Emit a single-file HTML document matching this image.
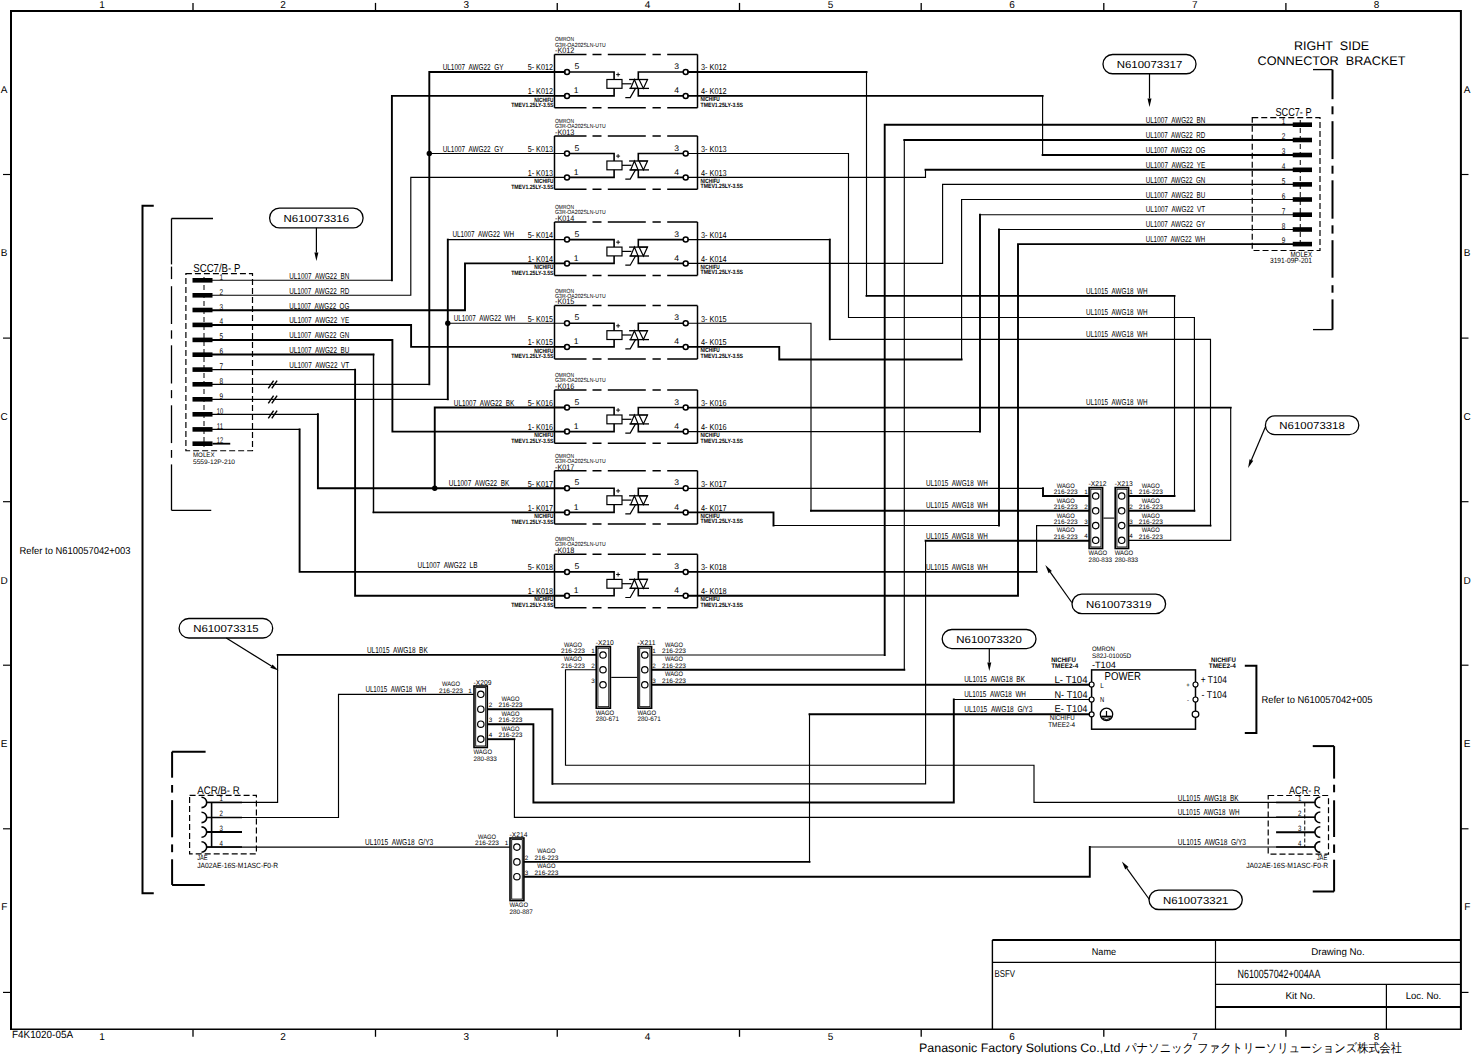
<!DOCTYPE html>
<html><head><meta charset="utf-8"><title>Schematic</title>
<style>
html,body{margin:0;padding:0;background:#fff;}
body{width:1472px;height:1054px;overflow:hidden;}
svg{display:block;font-family:"Liberation Sans", sans-serif;}
text{stroke:none;}
</style></head><body>
<svg width="1472" height="1054" viewBox="0 0 1472 1054" text-rendering="geometricPrecision">
<rect x="0" y="0" width="1472" height="1054" fill="#fff"/>
<g fill="none" stroke="#000">
<path d="M11.0,1029.3 V11.05 H1460.9 V1029.3" stroke-width="2.0"/>
<line x1="10" y1="1029.3" x2="1461.9" y2="1029.3" stroke-width="1.4" />
<line x1="193" y1="2.9" x2="193" y2="11.05" stroke-width="1.3" />
<line x1="193" y1="1029.3" x2="193" y2="1036.8" stroke-width="1.3" />
<line x1="375.5" y1="2.9" x2="375.5" y2="11.05" stroke-width="1.3" />
<line x1="375.5" y1="1029.3" x2="375.5" y2="1036.8" stroke-width="1.3" />
<line x1="557.25" y1="2.9" x2="557.25" y2="11.05" stroke-width="1.3" />
<line x1="557.25" y1="1029.3" x2="557.25" y2="1036.8" stroke-width="1.3" />
<line x1="739.5" y1="2.9" x2="739.5" y2="11.05" stroke-width="1.3" />
<line x1="739.5" y1="1029.3" x2="739.5" y2="1036.8" stroke-width="1.3" />
<line x1="921.2" y1="2.9" x2="921.2" y2="11.05" stroke-width="1.3" />
<line x1="921.2" y1="1029.3" x2="921.2" y2="1036.8" stroke-width="1.3" />
<line x1="1103.8" y1="2.9" x2="1103.8" y2="11.05" stroke-width="1.3" />
<line x1="1103.8" y1="1029.3" x2="1103.8" y2="1036.8" stroke-width="1.3" />
<line x1="1285.9" y1="2.9" x2="1285.9" y2="11.05" stroke-width="1.3" />
<line x1="1285.9" y1="1029.3" x2="1285.9" y2="1036.8" stroke-width="1.3" />
<line x1="3" y1="174.5" x2="11" y2="174.5" stroke-width="1.15" />
<line x1="1460.9" y1="174.5" x2="1468.5" y2="174.5" stroke-width="1.15" />
<line x1="3" y1="338.1" x2="11" y2="338.1" stroke-width="1.15" />
<line x1="1460.9" y1="338.1" x2="1468.5" y2="338.1" stroke-width="1.15" />
<line x1="3" y1="501.7" x2="11" y2="501.7" stroke-width="1.15" />
<line x1="1460.9" y1="501.7" x2="1468.5" y2="501.7" stroke-width="1.15" />
<line x1="3" y1="665.2" x2="11" y2="665.2" stroke-width="1.15" />
<line x1="1460.9" y1="665.2" x2="1468.5" y2="665.2" stroke-width="1.15" />
<line x1="3" y1="828.8" x2="11" y2="828.8" stroke-width="1.15" />
<line x1="1460.9" y1="828.8" x2="1468.5" y2="828.8" stroke-width="1.15" />
<line x1="3" y1="992.4" x2="11" y2="992.4" stroke-width="1.15" />
<line x1="1460.9" y1="992.4" x2="1468.5" y2="992.4" stroke-width="1.15" />
</g>
<g fill="#000" stroke="none">
<text x="102" y="7.65" font-size="10" fill="#000" text-anchor="middle">1</text>
<text x="102" y="1039.75" font-size="10" fill="#000" text-anchor="middle">1</text>
<text x="283" y="7.65" font-size="10" fill="#000" text-anchor="middle">2</text>
<text x="283" y="1039.75" font-size="10" fill="#000" text-anchor="middle">2</text>
<text x="466.25" y="7.65" font-size="10" fill="#000" text-anchor="middle">3</text>
<text x="466.25" y="1039.75" font-size="10" fill="#000" text-anchor="middle">3</text>
<text x="647.5" y="7.65" font-size="10" fill="#000" text-anchor="middle">4</text>
<text x="647.5" y="1039.75" font-size="10" fill="#000" text-anchor="middle">4</text>
<text x="830.5" y="7.65" font-size="10" fill="#000" text-anchor="middle">5</text>
<text x="830.5" y="1039.75" font-size="10" fill="#000" text-anchor="middle">5</text>
<text x="1012" y="7.65" font-size="10" fill="#000" text-anchor="middle">6</text>
<text x="1012" y="1039.75" font-size="10" fill="#000" text-anchor="middle">6</text>
<text x="1194.75" y="7.65" font-size="10" fill="#000" text-anchor="middle">7</text>
<text x="1194.75" y="1039.75" font-size="10" fill="#000" text-anchor="middle">7</text>
<text x="1376.5" y="7.65" font-size="10" fill="#000" text-anchor="middle">8</text>
<text x="1376.5" y="1039.75" font-size="10" fill="#000" text-anchor="middle">8</text>
<text x="4.2" y="93.05" font-size="10" fill="#000" text-anchor="middle">A</text>
<text x="1467.2" y="93.05" font-size="10" fill="#000" text-anchor="middle">A</text>
<text x="4.2" y="256.05" font-size="10" fill="#000" text-anchor="middle">B</text>
<text x="1467.2" y="256.05" font-size="10" fill="#000" text-anchor="middle">B</text>
<text x="4.2" y="419.75" font-size="10" fill="#000" text-anchor="middle">C</text>
<text x="1467.2" y="419.75" font-size="10" fill="#000" text-anchor="middle">C</text>
<text x="4.2" y="583.75" font-size="10" fill="#000" text-anchor="middle">D</text>
<text x="1467.2" y="583.75" font-size="10" fill="#000" text-anchor="middle">D</text>
<text x="4.2" y="747.05" font-size="10" fill="#000" text-anchor="middle">E</text>
<text x="1467.2" y="747.05" font-size="10" fill="#000" text-anchor="middle">E</text>
<text x="4.2" y="910.25" font-size="10" fill="#000" text-anchor="middle">F</text>
<text x="1467.2" y="910.25" font-size="10" fill="#000" text-anchor="middle">F</text>
<text x="12" y="1038.29" font-size="10.4" fill="#000" textLength="61" lengthAdjust="spacingAndGlyphs">F4K1020-05A</text>
</g>
<g fill="none" stroke="#000">
<line x1="554.5" y1="54.4" x2="554.5" y2="107.8" stroke-width="1.5" />
<line x1="697.5" y1="54.4" x2="697.5" y2="107.8" stroke-width="1.5" />
<line x1="554.5" y1="54.4" x2="697.5" y2="54.4" stroke-width="1.5" stroke-dasharray="32 6 9 6.3 38 6.7 8.3 6.4 40"/>
<line x1="554.5" y1="107.8" x2="697.5" y2="107.8" stroke-width="1.5" stroke-dasharray="32 6 9 6.3 38 6.7 8.3 6.4 40"/>
<circle cx="567" cy="72" r="2.5" stroke-width="1.5" fill="none"/>
<circle cx="567" cy="95.9" r="2.5" stroke-width="1.5" fill="none"/>
<circle cx="685.7" cy="72" r="2.5" stroke-width="1.5" fill="none"/>
<circle cx="685.7" cy="95.9" r="2.5" stroke-width="1.5" fill="none"/>
<polyline points="569.4,72 614.1,72 614.1,79.5" stroke-width="1.6" />
<polyline points="569.4,95.9 614.1,95.9 614.1,88.3" stroke-width="1.6" />
<rect x="606.9" y="79.5" width="15.1" height="8.8" stroke-width="1.2" />
<line x1="622" y1="83.8" x2="631.5" y2="83.8" stroke-width="1.2" />
<line x1="629.1" y1="79.5" x2="648" y2="79.5" stroke-width="1.3" />
<line x1="629.4" y1="88.4" x2="649" y2="88.4" stroke-width="1.3" />
<polygon points="630.6,88.4 634.4,79.5 638.1,88.4" stroke-width="1.2"/>
<polygon points="639.1,79.5 647.5,79.5 643.4,88.4" stroke-width="1.2"/>
<polyline points="683.3,72 638.3,72 638.3,79.5" stroke-width="1.6" />
<polyline points="683.3,95.9 638.3,95.9 638.3,88.4" stroke-width="1.6" />
<polyline points="625.3,97.6 630.2,97.6 635.5,88.4" stroke-width="1.2" />
</g>
<g fill="#000" stroke="none">
<path d="M616.1,74.6H620.1M618.1,72.6V76.6" stroke="#000" stroke-width="0.9" fill="none"/>
<text x="574.5" y="69.13" font-size="8.2" fill="#000" textLength="4.8" lengthAdjust="spacingAndGlyphs">5</text>
<text x="573.8" y="93.03" font-size="8.2" fill="#000" textLength="4.8" lengthAdjust="spacingAndGlyphs">1</text>
<text x="674.3" y="69.13" font-size="8.2" fill="#000" textLength="4.8" lengthAdjust="spacingAndGlyphs">3</text>
<text x="674.3" y="93.03" font-size="8.2" fill="#000" textLength="4.8" lengthAdjust="spacingAndGlyphs">4</text>
<text x="553" y="70.37" font-size="8.6" fill="#000" text-anchor="end" textLength="25.3" lengthAdjust="spacingAndGlyphs">5- K012</text>
<text x="553" y="94.27" font-size="8.6" fill="#000" text-anchor="end" textLength="25.3" lengthAdjust="spacingAndGlyphs">1- K012</text>
<text x="553.5" y="101.54" font-size="6.2" fill="#000" text-anchor="end" textLength="19.3" lengthAdjust="spacingAndGlyphs" font-weight="bold">NICHIFU</text>
<text x="553.5" y="107.04" font-size="6.2" fill="#000" text-anchor="end" textLength="42.3" lengthAdjust="spacingAndGlyphs" font-weight="bold">TMEV1.25LY-3.5S</text>
<text x="701" y="70.37" font-size="8.6" fill="#000" textLength="25.7" lengthAdjust="spacingAndGlyphs">3- K012</text>
<text x="701" y="94.27" font-size="8.6" fill="#000" textLength="25.7" lengthAdjust="spacingAndGlyphs">4- K012</text>
<text x="700.5" y="101.24" font-size="6.2" fill="#000" textLength="19.3" lengthAdjust="spacingAndGlyphs" font-weight="bold">NICHIFU</text>
<text x="700.5" y="106.94" font-size="6.2" fill="#000" textLength="42.5" lengthAdjust="spacingAndGlyphs" font-weight="bold">TMEV1.25LY-3.5S</text>
<text x="555" y="41.47" font-size="6" fill="#000" textLength="19" lengthAdjust="spacingAndGlyphs">OMRON</text>
<text x="555" y="46.57" font-size="6" fill="#000" textLength="50.8" lengthAdjust="spacingAndGlyphs">G3R-OA202SLN-UTU</text>
<text x="555" y="53.26" font-size="8" fill="#000" textLength="19.4" lengthAdjust="spacingAndGlyphs">-K012</text>
</g>
<g fill="none" stroke="#000">
<line x1="554.5" y1="135.9" x2="554.5" y2="189.3" stroke-width="1.5" />
<line x1="697.5" y1="135.9" x2="697.5" y2="189.3" stroke-width="1.5" />
<line x1="554.5" y1="135.9" x2="697.5" y2="135.9" stroke-width="1.5" stroke-dasharray="32 6 9 6.3 38 6.7 8.3 6.4 40"/>
<line x1="554.5" y1="189.3" x2="697.5" y2="189.3" stroke-width="1.5" stroke-dasharray="32 6 9 6.3 38 6.7 8.3 6.4 40"/>
<circle cx="567" cy="153.5" r="2.5" stroke-width="1.5" fill="none"/>
<circle cx="567" cy="177.4" r="2.5" stroke-width="1.5" fill="none"/>
<circle cx="685.7" cy="153.5" r="2.5" stroke-width="1.5" fill="none"/>
<circle cx="685.7" cy="177.4" r="2.5" stroke-width="1.5" fill="none"/>
<polyline points="569.4,153.5 614.1,153.5 614.1,161" stroke-width="1.6" />
<polyline points="569.4,177.4 614.1,177.4 614.1,169.8" stroke-width="1.6" />
<rect x="606.9" y="161" width="15.1" height="8.8" stroke-width="1.2" />
<line x1="622" y1="165.3" x2="631.5" y2="165.3" stroke-width="1.2" />
<line x1="629.1" y1="161" x2="648" y2="161" stroke-width="1.3" />
<line x1="629.4" y1="169.9" x2="649" y2="169.9" stroke-width="1.3" />
<polygon points="630.6,169.9 634.4,161 638.1,169.9" stroke-width="1.2"/>
<polygon points="639.1,161 647.5,161 643.4,169.9" stroke-width="1.2"/>
<polyline points="683.3,153.5 638.3,153.5 638.3,161" stroke-width="1.6" />
<polyline points="683.3,177.4 638.3,177.4 638.3,169.9" stroke-width="1.6" />
<polyline points="625.3,179.1 630.2,179.1 635.5,169.9" stroke-width="1.2" />
</g>
<g fill="#000" stroke="none">
<path d="M616.1,156.1H620.1M618.1,154.1V158.1" stroke="#000" stroke-width="0.9" fill="none"/>
<text x="574.5" y="150.63" font-size="8.2" fill="#000" textLength="4.8" lengthAdjust="spacingAndGlyphs">5</text>
<text x="573.8" y="174.53" font-size="8.2" fill="#000" textLength="4.8" lengthAdjust="spacingAndGlyphs">1</text>
<text x="674.3" y="150.63" font-size="8.2" fill="#000" textLength="4.8" lengthAdjust="spacingAndGlyphs">3</text>
<text x="674.3" y="174.53" font-size="8.2" fill="#000" textLength="4.8" lengthAdjust="spacingAndGlyphs">4</text>
<text x="553" y="151.87" font-size="8.6" fill="#000" text-anchor="end" textLength="25.3" lengthAdjust="spacingAndGlyphs">5- K013</text>
<text x="553" y="175.77" font-size="8.6" fill="#000" text-anchor="end" textLength="25.3" lengthAdjust="spacingAndGlyphs">1- K013</text>
<text x="553.5" y="183.04" font-size="6.2" fill="#000" text-anchor="end" textLength="19.3" lengthAdjust="spacingAndGlyphs" font-weight="bold">NICHIFU</text>
<text x="553.5" y="188.54" font-size="6.2" fill="#000" text-anchor="end" textLength="42.3" lengthAdjust="spacingAndGlyphs" font-weight="bold">TMEV1.25LY-3.5S</text>
<text x="701" y="151.87" font-size="8.6" fill="#000" textLength="25.7" lengthAdjust="spacingAndGlyphs">3- K013</text>
<text x="701" y="175.77" font-size="8.6" fill="#000" textLength="25.7" lengthAdjust="spacingAndGlyphs">4- K013</text>
<text x="700.5" y="182.74" font-size="6.2" fill="#000" textLength="19.3" lengthAdjust="spacingAndGlyphs" font-weight="bold">NICHIFU</text>
<text x="700.5" y="188.44" font-size="6.2" fill="#000" textLength="42.5" lengthAdjust="spacingAndGlyphs" font-weight="bold">TMEV1.25LY-3.5S</text>
<text x="555" y="122.97" font-size="6" fill="#000" textLength="19" lengthAdjust="spacingAndGlyphs">OMRON</text>
<text x="555" y="128.07" font-size="6" fill="#000" textLength="50.8" lengthAdjust="spacingAndGlyphs">G3R-OA202SLN-UTU</text>
<text x="555" y="134.76" font-size="8" fill="#000" textLength="19.4" lengthAdjust="spacingAndGlyphs">-K013</text>
</g>
<g fill="none" stroke="#000">
<line x1="554.5" y1="222" x2="554.5" y2="275.4" stroke-width="1.5" />
<line x1="697.5" y1="222" x2="697.5" y2="275.4" stroke-width="1.5" />
<line x1="554.5" y1="222" x2="697.5" y2="222" stroke-width="1.5" stroke-dasharray="32 6 9 6.3 38 6.7 8.3 6.4 40"/>
<line x1="554.5" y1="275.4" x2="697.5" y2="275.4" stroke-width="1.5" stroke-dasharray="32 6 9 6.3 38 6.7 8.3 6.4 40"/>
<circle cx="567" cy="239.6" r="2.5" stroke-width="1.5" fill="none"/>
<circle cx="567" cy="263.4" r="2.5" stroke-width="1.5" fill="none"/>
<circle cx="685.7" cy="239.6" r="2.5" stroke-width="1.5" fill="none"/>
<circle cx="685.7" cy="263.4" r="2.5" stroke-width="1.5" fill="none"/>
<polyline points="569.4,239.6 614.1,239.6 614.1,247.1" stroke-width="1.6" />
<polyline points="569.4,263.4 614.1,263.4 614.1,255.9" stroke-width="1.6" />
<rect x="606.9" y="247.1" width="15.1" height="8.8" stroke-width="1.2" />
<line x1="622" y1="251.4" x2="631.5" y2="251.4" stroke-width="1.2" />
<line x1="629.1" y1="247.1" x2="648" y2="247.1" stroke-width="1.3" />
<line x1="629.4" y1="256" x2="649" y2="256" stroke-width="1.3" />
<polygon points="630.6,256 634.4,247.1 638.1,256" stroke-width="1.2"/>
<polygon points="639.1,247.1 647.5,247.1 643.4,256" stroke-width="1.2"/>
<polyline points="683.3,239.6 638.3,239.6 638.3,247.1" stroke-width="1.6" />
<polyline points="683.3,263.4 638.3,263.4 638.3,256" stroke-width="1.6" />
<polyline points="625.3,265.2 630.2,265.2 635.5,256" stroke-width="1.2" />
</g>
<g fill="#000" stroke="none">
<path d="M616.1,242.2H620.1M618.1,240.2V244.2" stroke="#000" stroke-width="0.9" fill="none"/>
<text x="574.5" y="236.73" font-size="8.2" fill="#000" textLength="4.8" lengthAdjust="spacingAndGlyphs">5</text>
<text x="573.8" y="260.53" font-size="8.2" fill="#000" textLength="4.8" lengthAdjust="spacingAndGlyphs">1</text>
<text x="674.3" y="236.73" font-size="8.2" fill="#000" textLength="4.8" lengthAdjust="spacingAndGlyphs">3</text>
<text x="674.3" y="260.53" font-size="8.2" fill="#000" textLength="4.8" lengthAdjust="spacingAndGlyphs">4</text>
<text x="553" y="237.97" font-size="8.6" fill="#000" text-anchor="end" textLength="25.3" lengthAdjust="spacingAndGlyphs">5- K014</text>
<text x="553" y="261.77" font-size="8.6" fill="#000" text-anchor="end" textLength="25.3" lengthAdjust="spacingAndGlyphs">1- K014</text>
<text x="553.5" y="269.04" font-size="6.2" fill="#000" text-anchor="end" textLength="19.3" lengthAdjust="spacingAndGlyphs" font-weight="bold">NICHIFU</text>
<text x="553.5" y="274.54" font-size="6.2" fill="#000" text-anchor="end" textLength="42.3" lengthAdjust="spacingAndGlyphs" font-weight="bold">TMEV1.25LY-3.5S</text>
<text x="701" y="237.97" font-size="8.6" fill="#000" textLength="25.7" lengthAdjust="spacingAndGlyphs">3- K014</text>
<text x="701" y="261.77" font-size="8.6" fill="#000" textLength="25.7" lengthAdjust="spacingAndGlyphs">4- K014</text>
<text x="700.5" y="268.74" font-size="6.2" fill="#000" textLength="19.3" lengthAdjust="spacingAndGlyphs" font-weight="bold">NICHIFU</text>
<text x="700.5" y="274.44" font-size="6.2" fill="#000" textLength="42.5" lengthAdjust="spacingAndGlyphs" font-weight="bold">TMEV1.25LY-3.5S</text>
<text x="555" y="209.07" font-size="6" fill="#000" textLength="19" lengthAdjust="spacingAndGlyphs">OMRON</text>
<text x="555" y="214.17" font-size="6" fill="#000" textLength="50.8" lengthAdjust="spacingAndGlyphs">G3R-OA202SLN-UTU</text>
<text x="555" y="220.86" font-size="8" fill="#000" textLength="19.4" lengthAdjust="spacingAndGlyphs">-K014</text>
</g>
<g fill="none" stroke="#000">
<line x1="554.5" y1="305.6" x2="554.5" y2="359" stroke-width="1.5" />
<line x1="697.5" y1="305.6" x2="697.5" y2="359" stroke-width="1.5" />
<line x1="554.5" y1="305.6" x2="697.5" y2="305.6" stroke-width="1.5" stroke-dasharray="32 6 9 6.3 38 6.7 8.3 6.4 40"/>
<line x1="554.5" y1="359" x2="697.5" y2="359" stroke-width="1.5" stroke-dasharray="32 6 9 6.3 38 6.7 8.3 6.4 40"/>
<circle cx="567" cy="323.2" r="2.5" stroke-width="1.5" fill="none"/>
<circle cx="567" cy="346.9" r="2.5" stroke-width="1.5" fill="none"/>
<circle cx="685.7" cy="323.2" r="2.5" stroke-width="1.5" fill="none"/>
<circle cx="685.7" cy="346.9" r="2.5" stroke-width="1.5" fill="none"/>
<polyline points="569.4,323.2 614.1,323.2 614.1,330.7" stroke-width="1.6" />
<polyline points="569.4,346.9 614.1,346.9 614.1,339.5" stroke-width="1.6" />
<rect x="606.9" y="330.7" width="15.1" height="8.8" stroke-width="1.2" />
<line x1="622" y1="335" x2="631.5" y2="335" stroke-width="1.2" />
<line x1="629.1" y1="330.7" x2="648" y2="330.7" stroke-width="1.3" />
<line x1="629.4" y1="339.6" x2="649" y2="339.6" stroke-width="1.3" />
<polygon points="630.6,339.6 634.4,330.7 638.1,339.6" stroke-width="1.2"/>
<polygon points="639.1,330.7 647.5,330.7 643.4,339.6" stroke-width="1.2"/>
<polyline points="683.3,323.2 638.3,323.2 638.3,330.7" stroke-width="1.6" />
<polyline points="683.3,346.9 638.3,346.9 638.3,339.6" stroke-width="1.6" />
<polyline points="625.3,348.8 630.2,348.8 635.5,339.6" stroke-width="1.2" />
</g>
<g fill="#000" stroke="none">
<path d="M616.1,325.8H620.1M618.1,323.8V327.8" stroke="#000" stroke-width="0.9" fill="none"/>
<text x="574.5" y="320.33" font-size="8.2" fill="#000" textLength="4.8" lengthAdjust="spacingAndGlyphs">5</text>
<text x="573.8" y="344.03" font-size="8.2" fill="#000" textLength="4.8" lengthAdjust="spacingAndGlyphs">1</text>
<text x="674.3" y="320.33" font-size="8.2" fill="#000" textLength="4.8" lengthAdjust="spacingAndGlyphs">3</text>
<text x="674.3" y="344.03" font-size="8.2" fill="#000" textLength="4.8" lengthAdjust="spacingAndGlyphs">4</text>
<text x="553" y="321.57" font-size="8.6" fill="#000" text-anchor="end" textLength="25.3" lengthAdjust="spacingAndGlyphs">5- K015</text>
<text x="553" y="345.27" font-size="8.6" fill="#000" text-anchor="end" textLength="25.3" lengthAdjust="spacingAndGlyphs">1- K015</text>
<text x="553.5" y="352.54" font-size="6.2" fill="#000" text-anchor="end" textLength="19.3" lengthAdjust="spacingAndGlyphs" font-weight="bold">NICHIFU</text>
<text x="553.5" y="358.04" font-size="6.2" fill="#000" text-anchor="end" textLength="42.3" lengthAdjust="spacingAndGlyphs" font-weight="bold">TMEV1.25LY-3.5S</text>
<text x="701" y="321.57" font-size="8.6" fill="#000" textLength="25.7" lengthAdjust="spacingAndGlyphs">3- K015</text>
<text x="701" y="345.27" font-size="8.6" fill="#000" textLength="25.7" lengthAdjust="spacingAndGlyphs">4- K015</text>
<text x="700.5" y="352.24" font-size="6.2" fill="#000" textLength="19.3" lengthAdjust="spacingAndGlyphs" font-weight="bold">NICHIFU</text>
<text x="700.5" y="357.94" font-size="6.2" fill="#000" textLength="42.5" lengthAdjust="spacingAndGlyphs" font-weight="bold">TMEV1.25LY-3.5S</text>
<text x="555" y="292.67" font-size="6" fill="#000" textLength="19" lengthAdjust="spacingAndGlyphs">OMRON</text>
<text x="555" y="297.77" font-size="6" fill="#000" textLength="50.8" lengthAdjust="spacingAndGlyphs">G3R-OA202SLN-UTU</text>
<text x="555" y="304.46" font-size="8" fill="#000" textLength="19.4" lengthAdjust="spacingAndGlyphs">-K015</text>
</g>
<g fill="none" stroke="#000">
<line x1="554.5" y1="389.9" x2="554.5" y2="443.3" stroke-width="1.5" />
<line x1="697.5" y1="389.9" x2="697.5" y2="443.3" stroke-width="1.5" />
<line x1="554.5" y1="389.9" x2="697.5" y2="389.9" stroke-width="1.5" stroke-dasharray="32 6 9 6.3 38 6.7 8.3 6.4 40"/>
<line x1="554.5" y1="443.3" x2="697.5" y2="443.3" stroke-width="1.5" stroke-dasharray="32 6 9 6.3 38 6.7 8.3 6.4 40"/>
<circle cx="567" cy="407.5" r="2.5" stroke-width="1.5" fill="none"/>
<circle cx="567" cy="431.6" r="2.5" stroke-width="1.5" fill="none"/>
<circle cx="685.7" cy="407.5" r="2.5" stroke-width="1.5" fill="none"/>
<circle cx="685.7" cy="431.6" r="2.5" stroke-width="1.5" fill="none"/>
<polyline points="569.4,407.5 614.1,407.5 614.1,415" stroke-width="1.6" />
<polyline points="569.4,431.6 614.1,431.6 614.1,423.8" stroke-width="1.6" />
<rect x="606.9" y="415" width="15.1" height="8.8" stroke-width="1.2" />
<line x1="622" y1="419.3" x2="631.5" y2="419.3" stroke-width="1.2" />
<line x1="629.1" y1="415" x2="648" y2="415" stroke-width="1.3" />
<line x1="629.4" y1="423.9" x2="649" y2="423.9" stroke-width="1.3" />
<polygon points="630.6,423.9 634.4,415 638.1,423.9" stroke-width="1.2"/>
<polygon points="639.1,415 647.5,415 643.4,423.9" stroke-width="1.2"/>
<polyline points="683.3,407.5 638.3,407.5 638.3,415" stroke-width="1.6" />
<polyline points="683.3,431.6 638.3,431.6 638.3,423.9" stroke-width="1.6" />
<polyline points="625.3,433.1 630.2,433.1 635.5,423.9" stroke-width="1.2" />
</g>
<g fill="#000" stroke="none">
<path d="M616.1,410.1H620.1M618.1,408.1V412.1" stroke="#000" stroke-width="0.9" fill="none"/>
<text x="574.5" y="404.63" font-size="8.2" fill="#000" textLength="4.8" lengthAdjust="spacingAndGlyphs">5</text>
<text x="573.8" y="428.73" font-size="8.2" fill="#000" textLength="4.8" lengthAdjust="spacingAndGlyphs">1</text>
<text x="674.3" y="404.63" font-size="8.2" fill="#000" textLength="4.8" lengthAdjust="spacingAndGlyphs">3</text>
<text x="674.3" y="428.73" font-size="8.2" fill="#000" textLength="4.8" lengthAdjust="spacingAndGlyphs">4</text>
<text x="553" y="405.87" font-size="8.6" fill="#000" text-anchor="end" textLength="25.3" lengthAdjust="spacingAndGlyphs">5- K016</text>
<text x="553" y="429.97" font-size="8.6" fill="#000" text-anchor="end" textLength="25.3" lengthAdjust="spacingAndGlyphs">1- K016</text>
<text x="553.5" y="437.24" font-size="6.2" fill="#000" text-anchor="end" textLength="19.3" lengthAdjust="spacingAndGlyphs" font-weight="bold">NICHIFU</text>
<text x="553.5" y="442.74" font-size="6.2" fill="#000" text-anchor="end" textLength="42.3" lengthAdjust="spacingAndGlyphs" font-weight="bold">TMEV1.25LY-3.5S</text>
<text x="701" y="405.87" font-size="8.6" fill="#000" textLength="25.7" lengthAdjust="spacingAndGlyphs">3- K016</text>
<text x="701" y="429.97" font-size="8.6" fill="#000" textLength="25.7" lengthAdjust="spacingAndGlyphs">4- K016</text>
<text x="700.5" y="436.94" font-size="6.2" fill="#000" textLength="19.3" lengthAdjust="spacingAndGlyphs" font-weight="bold">NICHIFU</text>
<text x="700.5" y="442.64" font-size="6.2" fill="#000" textLength="42.5" lengthAdjust="spacingAndGlyphs" font-weight="bold">TMEV1.25LY-3.5S</text>
<text x="555" y="376.97" font-size="6" fill="#000" textLength="19" lengthAdjust="spacingAndGlyphs">OMRON</text>
<text x="555" y="382.07" font-size="6" fill="#000" textLength="50.8" lengthAdjust="spacingAndGlyphs">G3R-OA202SLN-UTU</text>
<text x="555" y="388.76" font-size="8" fill="#000" textLength="19.4" lengthAdjust="spacingAndGlyphs">-K016</text>
</g>
<g fill="none" stroke="#000">
<line x1="554.5" y1="470.7" x2="554.5" y2="524.1" stroke-width="1.5" />
<line x1="697.5" y1="470.7" x2="697.5" y2="524.1" stroke-width="1.5" />
<line x1="554.5" y1="470.7" x2="697.5" y2="470.7" stroke-width="1.5" stroke-dasharray="32 6 9 6.3 38 6.7 8.3 6.4 40"/>
<line x1="554.5" y1="524.1" x2="697.5" y2="524.1" stroke-width="1.5" stroke-dasharray="32 6 9 6.3 38 6.7 8.3 6.4 40"/>
<circle cx="567" cy="488.3" r="2.5" stroke-width="1.5" fill="none"/>
<circle cx="567" cy="512.4" r="2.5" stroke-width="1.5" fill="none"/>
<circle cx="685.7" cy="488.3" r="2.5" stroke-width="1.5" fill="none"/>
<circle cx="685.7" cy="512.4" r="2.5" stroke-width="1.5" fill="none"/>
<polyline points="569.4,488.3 614.1,488.3 614.1,495.8" stroke-width="1.6" />
<polyline points="569.4,512.4 614.1,512.4 614.1,504.6" stroke-width="1.6" />
<rect x="606.9" y="495.8" width="15.1" height="8.8" stroke-width="1.2" />
<line x1="622" y1="500.1" x2="631.5" y2="500.1" stroke-width="1.2" />
<line x1="629.1" y1="495.8" x2="648" y2="495.8" stroke-width="1.3" />
<line x1="629.4" y1="504.7" x2="649" y2="504.7" stroke-width="1.3" />
<polygon points="630.6,504.7 634.4,495.8 638.1,504.7" stroke-width="1.2"/>
<polygon points="639.1,495.8 647.5,495.8 643.4,504.7" stroke-width="1.2"/>
<polyline points="683.3,488.3 638.3,488.3 638.3,495.8" stroke-width="1.6" />
<polyline points="683.3,512.4 638.3,512.4 638.3,504.7" stroke-width="1.6" />
<polyline points="625.3,513.9 630.2,513.9 635.5,504.7" stroke-width="1.2" />
</g>
<g fill="#000" stroke="none">
<path d="M616.1,490.9H620.1M618.1,488.9V492.9" stroke="#000" stroke-width="0.9" fill="none"/>
<text x="574.5" y="485.43" font-size="8.2" fill="#000" textLength="4.8" lengthAdjust="spacingAndGlyphs">5</text>
<text x="573.8" y="509.53" font-size="8.2" fill="#000" textLength="4.8" lengthAdjust="spacingAndGlyphs">1</text>
<text x="674.3" y="485.43" font-size="8.2" fill="#000" textLength="4.8" lengthAdjust="spacingAndGlyphs">3</text>
<text x="674.3" y="509.53" font-size="8.2" fill="#000" textLength="4.8" lengthAdjust="spacingAndGlyphs">4</text>
<text x="553" y="486.67" font-size="8.6" fill="#000" text-anchor="end" textLength="25.3" lengthAdjust="spacingAndGlyphs">5- K017</text>
<text x="553" y="510.77" font-size="8.6" fill="#000" text-anchor="end" textLength="25.3" lengthAdjust="spacingAndGlyphs">1- K017</text>
<text x="553.5" y="518.04" font-size="6.2" fill="#000" text-anchor="end" textLength="19.3" lengthAdjust="spacingAndGlyphs" font-weight="bold">NICHIFU</text>
<text x="553.5" y="523.54" font-size="6.2" fill="#000" text-anchor="end" textLength="42.3" lengthAdjust="spacingAndGlyphs" font-weight="bold">TMEV1.25LY-3.5S</text>
<text x="701" y="486.67" font-size="8.6" fill="#000" textLength="25.7" lengthAdjust="spacingAndGlyphs">3- K017</text>
<text x="701" y="510.77" font-size="8.6" fill="#000" textLength="25.7" lengthAdjust="spacingAndGlyphs">4- K017</text>
<text x="700.5" y="517.74" font-size="6.2" fill="#000" textLength="19.3" lengthAdjust="spacingAndGlyphs" font-weight="bold">NICHIFU</text>
<text x="700.5" y="523.44" font-size="6.2" fill="#000" textLength="42.5" lengthAdjust="spacingAndGlyphs" font-weight="bold">TMEV1.25LY-3.5S</text>
<text x="555" y="457.77" font-size="6" fill="#000" textLength="19" lengthAdjust="spacingAndGlyphs">OMRON</text>
<text x="555" y="462.87" font-size="6" fill="#000" textLength="50.8" lengthAdjust="spacingAndGlyphs">G3R-OA202SLN-UTU</text>
<text x="555" y="469.56" font-size="8" fill="#000" textLength="19.4" lengthAdjust="spacingAndGlyphs">-K017</text>
</g>
<g fill="none" stroke="#000">
<line x1="554.5" y1="554.3" x2="554.5" y2="607.7" stroke-width="1.5" />
<line x1="697.5" y1="554.3" x2="697.5" y2="607.7" stroke-width="1.5" />
<line x1="554.5" y1="554.3" x2="697.5" y2="554.3" stroke-width="1.5" stroke-dasharray="32 6 9 6.3 38 6.7 8.3 6.4 40"/>
<line x1="554.5" y1="607.7" x2="697.5" y2="607.7" stroke-width="1.5" stroke-dasharray="32 6 9 6.3 38 6.7 8.3 6.4 40"/>
<circle cx="567" cy="571.9" r="2.5" stroke-width="1.5" fill="none"/>
<circle cx="567" cy="595.7" r="2.5" stroke-width="1.5" fill="none"/>
<circle cx="685.7" cy="571.9" r="2.5" stroke-width="1.5" fill="none"/>
<circle cx="685.7" cy="595.7" r="2.5" stroke-width="1.5" fill="none"/>
<polyline points="569.4,571.9 614.1,571.9 614.1,579.4" stroke-width="1.6" />
<polyline points="569.4,595.7 614.1,595.7 614.1,588.2" stroke-width="1.6" />
<rect x="606.9" y="579.4" width="15.1" height="8.8" stroke-width="1.2" />
<line x1="622" y1="583.7" x2="631.5" y2="583.7" stroke-width="1.2" />
<line x1="629.1" y1="579.4" x2="648" y2="579.4" stroke-width="1.3" />
<line x1="629.4" y1="588.3" x2="649" y2="588.3" stroke-width="1.3" />
<polygon points="630.6,588.3 634.4,579.4 638.1,588.3" stroke-width="1.2"/>
<polygon points="639.1,579.4 647.5,579.4 643.4,588.3" stroke-width="1.2"/>
<polyline points="683.3,571.9 638.3,571.9 638.3,579.4" stroke-width="1.6" />
<polyline points="683.3,595.7 638.3,595.7 638.3,588.3" stroke-width="1.6" />
<polyline points="625.3,597.5 630.2,597.5 635.5,588.3" stroke-width="1.2" />
</g>
<g fill="#000" stroke="none">
<path d="M616.1,574.5H620.1M618.1,572.5V576.5" stroke="#000" stroke-width="0.9" fill="none"/>
<text x="574.5" y="569.03" font-size="8.2" fill="#000" textLength="4.8" lengthAdjust="spacingAndGlyphs">5</text>
<text x="573.8" y="592.83" font-size="8.2" fill="#000" textLength="4.8" lengthAdjust="spacingAndGlyphs">1</text>
<text x="674.3" y="569.03" font-size="8.2" fill="#000" textLength="4.8" lengthAdjust="spacingAndGlyphs">3</text>
<text x="674.3" y="592.83" font-size="8.2" fill="#000" textLength="4.8" lengthAdjust="spacingAndGlyphs">4</text>
<text x="553" y="570.27" font-size="8.6" fill="#000" text-anchor="end" textLength="25.3" lengthAdjust="spacingAndGlyphs">5- K018</text>
<text x="553" y="594.07" font-size="8.6" fill="#000" text-anchor="end" textLength="25.3" lengthAdjust="spacingAndGlyphs">1- K018</text>
<text x="553.5" y="601.34" font-size="6.2" fill="#000" text-anchor="end" textLength="19.3" lengthAdjust="spacingAndGlyphs" font-weight="bold">NICHIFU</text>
<text x="553.5" y="606.84" font-size="6.2" fill="#000" text-anchor="end" textLength="42.3" lengthAdjust="spacingAndGlyphs" font-weight="bold">TMEV1.25LY-3.5S</text>
<text x="701" y="570.27" font-size="8.6" fill="#000" textLength="25.7" lengthAdjust="spacingAndGlyphs">3- K018</text>
<text x="701" y="594.07" font-size="8.6" fill="#000" textLength="25.7" lengthAdjust="spacingAndGlyphs">4- K018</text>
<text x="700.5" y="601.04" font-size="6.2" fill="#000" textLength="19.3" lengthAdjust="spacingAndGlyphs" font-weight="bold">NICHIFU</text>
<text x="700.5" y="606.74" font-size="6.2" fill="#000" textLength="42.5" lengthAdjust="spacingAndGlyphs" font-weight="bold">TMEV1.25LY-3.5S</text>
<text x="555" y="541.37" font-size="6" fill="#000" textLength="19" lengthAdjust="spacingAndGlyphs">OMRON</text>
<text x="555" y="546.47" font-size="6" fill="#000" textLength="50.8" lengthAdjust="spacingAndGlyphs">G3R-OA202SLN-UTU</text>
<text x="555" y="553.16" font-size="8" fill="#000" textLength="19.4" lengthAdjust="spacingAndGlyphs">-K018</text>
</g>
<g fill="none" stroke="#000">
<rect x="185.9" y="273.7" width="66.6" height="177.05" stroke-width="1.2" stroke-dasharray="6 3"/>
<line x1="204" y1="277" x2="204" y2="447" stroke-width="1" stroke-dasharray="5 3"/>
<rect x="192.5" y="278" width="20" height="4.6" fill="#000" stroke="none"/>
<rect x="192.5" y="293" width="20" height="4.6" fill="#000" stroke="none"/>
<rect x="192.5" y="307.7" width="20" height="4.6" fill="#000" stroke="none"/>
<rect x="192.5" y="322.6" width="20" height="4.6" fill="#000" stroke="none"/>
<rect x="192.5" y="337.6" width="20" height="4.6" fill="#000" stroke="none"/>
<rect x="192.5" y="352.4" width="20" height="4.6" fill="#000" stroke="none"/>
<rect x="192.5" y="367.3" width="20" height="4.6" fill="#000" stroke="none"/>
<rect x="192.5" y="382" width="20" height="4.6" fill="#000" stroke="none"/>
<rect x="192.5" y="397" width="20" height="4.6" fill="#000" stroke="none"/>
<rect x="192.5" y="412" width="20" height="4.6" fill="#000" stroke="none"/>
<rect x="192.5" y="427.1" width="20" height="4.6" fill="#000" stroke="none"/>
<rect x="192.5" y="441.4" width="20" height="4.6" fill="#000" stroke="none"/>
<line x1="212.5" y1="443.7" x2="230.25" y2="443.7" stroke-width="1.8" />
<polyline points="153.75,205.75 142.5,205.75 142.5,893.25 153.75,893.25" stroke-width="2" />
<line x1="213" y1="218.5" x2="171.5" y2="218.5" stroke-width="1.3" />
<line x1="171.5" y1="510.3" x2="211.25" y2="510.3" stroke-width="1.3" />
<line x1="171.5" y1="218.5" x2="171.5" y2="264.4" stroke-width="1.3" />
<line x1="171.5" y1="266.6" x2="171.5" y2="279.1" stroke-width="1.3" />
<line x1="171.5" y1="286.2" x2="171.5" y2="324" stroke-width="1.3" />
<line x1="171.5" y1="330.3" x2="171.5" y2="338.7" stroke-width="1.3" />
<line x1="171.5" y1="345.3" x2="171.5" y2="383.5" stroke-width="1.3" />
<line x1="171.5" y1="390.1" x2="171.5" y2="398.2" stroke-width="1.3" />
<line x1="171.5" y1="405.3" x2="171.5" y2="443.1" stroke-width="1.3" />
<line x1="171.5" y1="450" x2="171.5" y2="457.8" stroke-width="1.3" />
<line x1="171.5" y1="464.4" x2="171.5" y2="510.3" stroke-width="1.3" />
</g>
<g fill="#000" stroke="none">
<text x="193.3" y="271.8" font-size="11.6" fill="#000" textLength="47" lengthAdjust="spacingAndGlyphs">SCC7/B- P</text>
<text x="221.4" y="279.86" font-size="8.3" fill="#000" text-anchor="middle" textLength="3.6" lengthAdjust="spacingAndGlyphs">1</text>
<text x="221.4" y="294.86" font-size="8.3" fill="#000" text-anchor="middle" textLength="3.6" lengthAdjust="spacingAndGlyphs">2</text>
<text x="221.4" y="309.56" font-size="8.3" fill="#000" text-anchor="middle" textLength="3.6" lengthAdjust="spacingAndGlyphs">3</text>
<text x="221.4" y="324.46" font-size="8.3" fill="#000" text-anchor="middle" textLength="3.6" lengthAdjust="spacingAndGlyphs">4</text>
<text x="221.4" y="339.46" font-size="8.3" fill="#000" text-anchor="middle" textLength="3.6" lengthAdjust="spacingAndGlyphs">5</text>
<text x="221.4" y="354.26" font-size="8.3" fill="#000" text-anchor="middle" textLength="3.6" lengthAdjust="spacingAndGlyphs">6</text>
<text x="221.4" y="369.16" font-size="8.3" fill="#000" text-anchor="middle" textLength="3.6" lengthAdjust="spacingAndGlyphs">7</text>
<text x="221.4" y="383.86" font-size="8.3" fill="#000" text-anchor="middle" textLength="3.6" lengthAdjust="spacingAndGlyphs">8</text>
<text x="221.4" y="398.86" font-size="8.3" fill="#000" text-anchor="middle" textLength="3.6" lengthAdjust="spacingAndGlyphs">9</text>
<text x="220" y="413.86" font-size="8.3" fill="#000" text-anchor="middle" textLength="6.3" lengthAdjust="spacingAndGlyphs">10</text>
<text x="220" y="428.96" font-size="8.3" fill="#000" text-anchor="middle" textLength="6.3" lengthAdjust="spacingAndGlyphs">11</text>
<text x="220" y="443.26" font-size="8.3" fill="#000" text-anchor="middle" textLength="6.3" lengthAdjust="spacingAndGlyphs">12</text>
<text x="193" y="457.24" font-size="6.5" fill="#000" textLength="21.5" lengthAdjust="spacingAndGlyphs">MOLEX</text>
<text x="193" y="464.24" font-size="6.5" fill="#000" textLength="42" lengthAdjust="spacingAndGlyphs">5559-12P-210</text>
</g>
<g fill="none" stroke="#000">
<rect x="1252.25" y="117.7" width="67.75" height="132.8" stroke-width="1.2" stroke-dasharray="6 3"/>
<line x1="1300.25" y1="120" x2="1300.25" y2="248" stroke-width="1" stroke-dasharray="5 3"/>
<rect x="1292.75" y="122.4" width="19.25" height="4.6" fill="#000" stroke="none"/>
<rect x="1292.75" y="137.7" width="19.25" height="4.6" fill="#000" stroke="none"/>
<rect x="1292.75" y="152.7" width="19.25" height="4.6" fill="#000" stroke="none"/>
<rect x="1292.75" y="167.5" width="19.25" height="4.6" fill="#000" stroke="none"/>
<rect x="1292.75" y="182.1" width="19.25" height="4.6" fill="#000" stroke="none"/>
<rect x="1292.75" y="197.2" width="19.25" height="4.6" fill="#000" stroke="none"/>
<rect x="1292.75" y="212.4" width="19.25" height="4.6" fill="#000" stroke="none"/>
<rect x="1292.75" y="227.2" width="19.25" height="4.6" fill="#000" stroke="none"/>
<rect x="1292.75" y="241.8" width="19.25" height="4.6" fill="#000" stroke="none"/>
<line x1="1313" y1="69.6" x2="1332.5" y2="69.6" stroke-width="1.3" />
<line x1="1313" y1="329.6" x2="1332.5" y2="329.6" stroke-width="1.3" />
<line x1="1332.5" y1="69.6" x2="1332.5" y2="99.2" stroke-width="2" />
<line x1="1332.5" y1="106.3" x2="1332.5" y2="114.3" stroke-width="2" />
<line x1="1332.5" y1="121.2" x2="1332.5" y2="159.1" stroke-width="2" />
<line x1="1332.5" y1="165.7" x2="1332.5" y2="173.7" stroke-width="2" />
<line x1="1332.5" y1="180.3" x2="1332.5" y2="218.7" stroke-width="2" />
<line x1="1332.5" y1="225.3" x2="1332.5" y2="233.6" stroke-width="2" />
<line x1="1332.5" y1="240.2" x2="1332.5" y2="277.7" stroke-width="2" />
<line x1="1332.5" y1="285.2" x2="1332.5" y2="292.7" stroke-width="2" />
<line x1="1332.5" y1="299.4" x2="1332.5" y2="329.6" stroke-width="2" />
</g>
<g fill="#000" stroke="none">
<text x="1275.5" y="115.8" font-size="11.6" fill="#000" textLength="36" lengthAdjust="spacingAndGlyphs">SCC7- P</text>
<text x="1283.5" y="124.06" font-size="8.3" fill="#000" text-anchor="middle" textLength="3.6" lengthAdjust="spacingAndGlyphs">1</text>
<text x="1283.5" y="139.36" font-size="8.3" fill="#000" text-anchor="middle" textLength="3.6" lengthAdjust="spacingAndGlyphs">2</text>
<text x="1283.5" y="154.36" font-size="8.3" fill="#000" text-anchor="middle" textLength="3.6" lengthAdjust="spacingAndGlyphs">3</text>
<text x="1283.5" y="169.16" font-size="8.3" fill="#000" text-anchor="middle" textLength="3.6" lengthAdjust="spacingAndGlyphs">4</text>
<text x="1283.5" y="183.76" font-size="8.3" fill="#000" text-anchor="middle" textLength="3.6" lengthAdjust="spacingAndGlyphs">5</text>
<text x="1283.5" y="198.86" font-size="8.3" fill="#000" text-anchor="middle" textLength="3.6" lengthAdjust="spacingAndGlyphs">6</text>
<text x="1283.5" y="214.06" font-size="8.3" fill="#000" text-anchor="middle" textLength="3.6" lengthAdjust="spacingAndGlyphs">7</text>
<text x="1283.5" y="228.86" font-size="8.3" fill="#000" text-anchor="middle" textLength="3.6" lengthAdjust="spacingAndGlyphs">8</text>
<text x="1283.5" y="243.46" font-size="8.3" fill="#000" text-anchor="middle" textLength="3.6" lengthAdjust="spacingAndGlyphs">9</text>
<text x="1331.5" y="50.31" font-size="12.5" fill="#000" text-anchor="middle" textLength="75" lengthAdjust="spacingAndGlyphs">RIGHT  SIDE</text>
<text x="1331.5" y="65.31" font-size="12.5" fill="#000" text-anchor="middle" textLength="148" lengthAdjust="spacingAndGlyphs">CONNECTOR  BRACKET</text>
<text x="1312" y="256.59" font-size="7.5" fill="#000" text-anchor="end" textLength="21.5" lengthAdjust="spacingAndGlyphs">MOLEX</text>
<text x="1312" y="263.39" font-size="7.5" fill="#000" text-anchor="end" textLength="42" lengthAdjust="spacingAndGlyphs">3191-09P-201</text>
</g>
<g fill="none" stroke="#000">
<rect x="189.6" y="795.4" width="66.8" height="58.5" stroke-width="1.2" stroke-dasharray="6 3"/>
<path d="M201.5,797.2 A5.2,5.2 0 0 1 201.5,807.6" stroke-width="1.6"/>
<path d="M201.5,812.2 A5.2,5.2 0 0 1 201.5,822.6" stroke-width="1.6"/>
<path d="M201.5,826.9 A5.2,5.2 0 0 1 201.5,837.3" stroke-width="1.6"/>
<path d="M201.5,841.8 A5.2,5.2 0 0 1 201.5,852.2" stroke-width="1.6"/>
<line x1="211.6" y1="802.3" x2="211.6" y2="847.1" stroke-width="1.6" />
<line x1="206.8" y1="832" x2="242" y2="832" stroke-width="1.9" />
<line x1="206.8" y1="802.4" x2="242" y2="802.4" stroke-width="1.5" />
<line x1="206.8" y1="817.5" x2="242" y2="817.5" stroke-width="1.5" />
<line x1="206.8" y1="847.1" x2="242" y2="847.1" stroke-width="1.5" />
<line x1="205.6" y1="751.7" x2="172.1" y2="751.7" stroke-width="2" />
<line x1="172.1" y1="884.9" x2="204.8" y2="884.9" stroke-width="2" />
<line x1="172.1" y1="751.7" x2="172.1" y2="777.7" stroke-width="2" />
<line x1="172.1" y1="785" x2="172.1" y2="792.6" stroke-width="2" />
<line x1="172.1" y1="800.1" x2="172.1" y2="837.3" stroke-width="2" />
<line x1="172.1" y1="844.4" x2="172.1" y2="852.2" stroke-width="2" />
<line x1="172.1" y1="859.3" x2="172.1" y2="884.9" stroke-width="2" />
<rect x="1268.2" y="795.5" width="60.3" height="58.7" stroke-width="1.2" stroke-dasharray="6 3"/>
<path d="M1320.3,797 A5.4,5.4 0 0 0 1320.3,807.8" stroke-width="1.6"/>
<path d="M1320.3,812 A5.4,5.4 0 0 0 1320.3,822.8" stroke-width="1.6"/>
<path d="M1320.3,826.7 A5.4,5.4 0 0 0 1320.3,837.5" stroke-width="1.6"/>
<path d="M1320.3,841.6 A5.4,5.4 0 0 0 1320.3,852.4" stroke-width="1.6"/>
<line x1="1304.75" y1="802.5" x2="1304.75" y2="846.9" stroke-width="1" stroke-dasharray="4 2"/>
<line x1="1276.1" y1="832.2" x2="1314.9" y2="832.2" stroke-width="1.9" />
<line x1="1276.1" y1="802.4" x2="1314.9" y2="802.4" stroke-width="1.5" />
<line x1="1276.1" y1="817.3" x2="1314.9" y2="817.3" stroke-width="1.5" />
<line x1="1276.1" y1="847" x2="1314.9" y2="847" stroke-width="1.5" />
<line x1="1312.75" y1="746.1" x2="1334.1" y2="746.1" stroke-width="2" />
<line x1="1312.75" y1="891.5" x2="1334.1" y2="891.5" stroke-width="2" />
<line x1="1334.1" y1="746.1" x2="1334.1" y2="778.6" stroke-width="2" />
<line x1="1334.1" y1="784.7" x2="1334.1" y2="792.3" stroke-width="2" />
<line x1="1334.1" y1="800.3" x2="1334.1" y2="837" stroke-width="2" />
<line x1="1334.1" y1="844.5" x2="1334.1" y2="852.9" stroke-width="2" />
<line x1="1334.1" y1="859.7" x2="1334.1" y2="891.5" stroke-width="2" />
</g>
<g fill="#000" stroke="none">
<text x="197.2" y="793.89" font-size="11" fill="#000" textLength="42.5" lengthAdjust="spacingAndGlyphs">ACR/B- R</text>
<text x="1289" y="793.79" font-size="11" fill="#000" textLength="31.4" lengthAdjust="spacingAndGlyphs">ACR- R</text>
<text x="221.2" y="801.29" font-size="7.8" fill="#000" text-anchor="middle" textLength="3.4" lengthAdjust="spacingAndGlyphs">1</text>
<text x="1299.75" y="801.29" font-size="7.8" fill="#000" text-anchor="middle" textLength="3.4" lengthAdjust="spacingAndGlyphs">1</text>
<text x="221.2" y="816.29" font-size="7.8" fill="#000" text-anchor="middle" textLength="3.4" lengthAdjust="spacingAndGlyphs">2</text>
<text x="1299.75" y="816.29" font-size="7.8" fill="#000" text-anchor="middle" textLength="3.4" lengthAdjust="spacingAndGlyphs">2</text>
<text x="221.2" y="830.99" font-size="7.8" fill="#000" text-anchor="middle" textLength="3.4" lengthAdjust="spacingAndGlyphs">3</text>
<text x="1299.75" y="830.99" font-size="7.8" fill="#000" text-anchor="middle" textLength="3.4" lengthAdjust="spacingAndGlyphs">3</text>
<text x="221.2" y="845.89" font-size="7.8" fill="#000" text-anchor="middle" textLength="3.4" lengthAdjust="spacingAndGlyphs">4</text>
<text x="1299.75" y="845.89" font-size="7.8" fill="#000" text-anchor="middle" textLength="3.4" lengthAdjust="spacingAndGlyphs">4</text>
<text x="197.2" y="860.29" font-size="7.5" fill="#000" textLength="10.5" lengthAdjust="spacingAndGlyphs">JAE</text>
<text x="197.2" y="867.89" font-size="7.5" fill="#000" textLength="80.9" lengthAdjust="spacingAndGlyphs">JA02AE-16S-M1ASC-F0-R</text>
<text x="1327.25" y="860.29" font-size="7.5" fill="#000" text-anchor="end" textLength="10.5" lengthAdjust="spacingAndGlyphs">JAE</text>
<text x="1328.1" y="867.59" font-size="7.5" fill="#000" text-anchor="end" textLength="81.9" lengthAdjust="spacingAndGlyphs">JA02AE-16S-M1ASC-F0-R</text>
</g>
<g fill="none" stroke="#000">
<rect x="1089.1" y="487.6" width="13.5" height="60.9" stroke-width="1.6" />
<rect x="1090.8" y="489.2" width="10.2" height="57.8" stroke-width="0.9" />
<circle cx="1095.7" cy="496" r="3.2" stroke-width="1.2" fill="#fff"/>
<circle cx="1095.7" cy="510.8" r="3.2" stroke-width="1.2" fill="#fff"/>
<circle cx="1095.7" cy="525.6" r="3.2" stroke-width="1.2" fill="#fff"/>
<circle cx="1095.7" cy="540.3" r="3.2" stroke-width="1.2" fill="#fff"/>
</g>
<g fill="#000" stroke="none">
<text x="1088.6" y="486.22" font-size="7" fill="#000" textLength="18" lengthAdjust="spacingAndGlyphs">-X212</text>
<text x="1088.6" y="555.04" font-size="6.5" fill="#000" textLength="18.5" lengthAdjust="spacingAndGlyphs">WAGO</text>
<text x="1088.6" y="561.54" font-size="6.5" fill="#000" textLength="23.4" lengthAdjust="spacingAndGlyphs">280-833</text>
</g>
<g fill="none" stroke="#000">
<rect x="1115.2" y="487.6" width="13.4" height="60.9" stroke-width="1.6" />
<rect x="1116.9" y="489.2" width="10.1" height="57.8" stroke-width="0.9" />
<circle cx="1121.7" cy="496" r="3.2" stroke-width="1.2" fill="#fff"/>
<circle cx="1121.7" cy="510.8" r="3.2" stroke-width="1.2" fill="#fff"/>
<circle cx="1121.7" cy="525.6" r="3.2" stroke-width="1.2" fill="#fff"/>
<circle cx="1121.7" cy="540.3" r="3.2" stroke-width="1.2" fill="#fff"/>
</g>
<g fill="#000" stroke="none">
<text x="1114.7" y="486.22" font-size="7" fill="#000" textLength="18" lengthAdjust="spacingAndGlyphs">-X213</text>
<text x="1114.7" y="555.04" font-size="6.5" fill="#000" textLength="18.5" lengthAdjust="spacingAndGlyphs">WAGO</text>
<text x="1114.7" y="561.54" font-size="6.5" fill="#000" textLength="23.4" lengthAdjust="spacingAndGlyphs">280-833</text>
</g>
<g fill="none" stroke="#000">
<line x1="1103.4" y1="518.1" x2="1114.4" y2="518.1" stroke-width="1.1" />
</g>
<g fill="#000" stroke="none">
<text x="1065.7" y="488.04" font-size="6.5" fill="#000" text-anchor="middle" textLength="18.1" lengthAdjust="spacingAndGlyphs">WAGO</text>
<text x="1065.7" y="494.14" font-size="6.5" fill="#000" text-anchor="middle" textLength="24" lengthAdjust="spacingAndGlyphs">216-223</text>
<text x="1065.7" y="502.84" font-size="6.5" fill="#000" text-anchor="middle" textLength="18.1" lengthAdjust="spacingAndGlyphs">WAGO</text>
<text x="1065.7" y="508.94" font-size="6.5" fill="#000" text-anchor="middle" textLength="24" lengthAdjust="spacingAndGlyphs">216-223</text>
<text x="1065.7" y="517.64" font-size="6.5" fill="#000" text-anchor="middle" textLength="18.1" lengthAdjust="spacingAndGlyphs">WAGO</text>
<text x="1065.7" y="523.74" font-size="6.5" fill="#000" text-anchor="middle" textLength="24" lengthAdjust="spacingAndGlyphs">216-223</text>
<text x="1065.7" y="532.34" font-size="6.5" fill="#000" text-anchor="middle" textLength="18.1" lengthAdjust="spacingAndGlyphs">WAGO</text>
<text x="1065.7" y="538.54" font-size="6.5" fill="#000" text-anchor="middle" textLength="24" lengthAdjust="spacingAndGlyphs">216-223</text>
</g>
<g fill="#000" stroke="none">
<text x="1150.8" y="488.04" font-size="6.5" fill="#000" text-anchor="middle" textLength="18.1" lengthAdjust="spacingAndGlyphs">WAGO</text>
<text x="1150.8" y="494.14" font-size="6.5" fill="#000" text-anchor="middle" textLength="24" lengthAdjust="spacingAndGlyphs">216-223</text>
<text x="1150.8" y="502.84" font-size="6.5" fill="#000" text-anchor="middle" textLength="18.1" lengthAdjust="spacingAndGlyphs">WAGO</text>
<text x="1150.8" y="508.94" font-size="6.5" fill="#000" text-anchor="middle" textLength="24" lengthAdjust="spacingAndGlyphs">216-223</text>
<text x="1150.8" y="517.64" font-size="6.5" fill="#000" text-anchor="middle" textLength="18.1" lengthAdjust="spacingAndGlyphs">WAGO</text>
<text x="1150.8" y="523.74" font-size="6.5" fill="#000" text-anchor="middle" textLength="24" lengthAdjust="spacingAndGlyphs">216-223</text>
<text x="1150.8" y="532.34" font-size="6.5" fill="#000" text-anchor="middle" textLength="18.1" lengthAdjust="spacingAndGlyphs">WAGO</text>
<text x="1150.8" y="538.54" font-size="6.5" fill="#000" text-anchor="middle" textLength="24" lengthAdjust="spacingAndGlyphs">216-223</text>
</g>
<g fill="#000" stroke="none">
<text x="1086" y="494.17" font-size="6.3" fill="#000" text-anchor="middle">1</text>
<text x="1086" y="509.17" font-size="6.3" fill="#000" text-anchor="middle">2</text>
<text x="1086" y="523.67" font-size="6.3" fill="#000" text-anchor="middle">3</text>
<text x="1086" y="538.17" font-size="6.3" fill="#000" text-anchor="middle">4</text>
</g>
<g fill="#000" stroke="none">
<text x="1131" y="494.17" font-size="6.3" fill="#000" text-anchor="middle">1</text>
<text x="1131" y="509.17" font-size="6.3" fill="#000" text-anchor="middle">2</text>
<text x="1131" y="523.67" font-size="6.3" fill="#000" text-anchor="middle">3</text>
<text x="1131" y="538.17" font-size="6.3" fill="#000" text-anchor="middle">4</text>
</g>
<g fill="none" stroke="#000">
<rect x="596.2" y="646.6" width="14.2" height="61.6" stroke-width="1.6" />
<rect x="597.9" y="648.2" width="10.9" height="58.5" stroke-width="0.9" />
<circle cx="603" cy="655" r="3.2" stroke-width="1.2" fill="#fff"/>
<circle cx="603" cy="669.75" r="3.2" stroke-width="1.2" fill="#fff"/>
<circle cx="603" cy="684.75" r="3.2" stroke-width="1.2" fill="#fff"/>
</g>
<g fill="#000" stroke="none">
<text x="595.7" y="645.21" font-size="7" fill="#000" textLength="18" lengthAdjust="spacingAndGlyphs">-X210</text>
<text x="595.7" y="714.74" font-size="6.5" fill="#000" textLength="18.5" lengthAdjust="spacingAndGlyphs">WAGO</text>
<text x="595.7" y="721.24" font-size="6.5" fill="#000" textLength="23.4" lengthAdjust="spacingAndGlyphs">280-671</text>
</g>
<g fill="none" stroke="#000">
<rect x="638" y="646.6" width="13.6" height="61.6" stroke-width="1.6" />
<rect x="639.7" y="648.2" width="10.3" height="58.5" stroke-width="0.9" />
<circle cx="644.8" cy="655" r="3.2" stroke-width="1.2" fill="#fff"/>
<circle cx="644.8" cy="669.75" r="3.2" stroke-width="1.2" fill="#fff"/>
<circle cx="644.8" cy="684.75" r="3.2" stroke-width="1.2" fill="#fff"/>
</g>
<g fill="#000" stroke="none">
<text x="637.5" y="645.21" font-size="7" fill="#000" textLength="18" lengthAdjust="spacingAndGlyphs">-X211</text>
<text x="637.5" y="714.74" font-size="6.5" fill="#000" textLength="18.5" lengthAdjust="spacingAndGlyphs">WAGO</text>
<text x="637.5" y="721.24" font-size="6.5" fill="#000" textLength="23.4" lengthAdjust="spacingAndGlyphs">280-671</text>
</g>
<g fill="none" stroke="#000">
<line x1="611.2" y1="677.4" x2="637.2" y2="677.4" stroke-width="1.1" />
</g>
<g fill="#000" stroke="none">
<text x="573" y="646.99" font-size="6.5" fill="#000" text-anchor="middle" textLength="18.1" lengthAdjust="spacingAndGlyphs">WAGO</text>
<text x="573" y="653.24" font-size="6.5" fill="#000" text-anchor="middle" textLength="24" lengthAdjust="spacingAndGlyphs">216-223</text>
<text x="573" y="661.24" font-size="6.5" fill="#000" text-anchor="middle" textLength="18.1" lengthAdjust="spacingAndGlyphs">WAGO</text>
<text x="573" y="667.74" font-size="6.5" fill="#000" text-anchor="middle" textLength="24" lengthAdjust="spacingAndGlyphs">216-223</text>
</g>
<g fill="#000" stroke="none">
<text x="674" y="646.99" font-size="6.5" fill="#000" text-anchor="middle" textLength="18.1" lengthAdjust="spacingAndGlyphs">WAGO</text>
<text x="674" y="653.24" font-size="6.5" fill="#000" text-anchor="middle" textLength="24" lengthAdjust="spacingAndGlyphs">216-223</text>
<text x="674" y="661.24" font-size="6.5" fill="#000" text-anchor="middle" textLength="18.1" lengthAdjust="spacingAndGlyphs">WAGO</text>
<text x="674" y="667.74" font-size="6.5" fill="#000" text-anchor="middle" textLength="24" lengthAdjust="spacingAndGlyphs">216-223</text>
<text x="674" y="675.99" font-size="6.5" fill="#000" text-anchor="middle" textLength="18.1" lengthAdjust="spacingAndGlyphs">WAGO</text>
<text x="674" y="682.74" font-size="6.5" fill="#000" text-anchor="middle" textLength="24" lengthAdjust="spacingAndGlyphs">216-223</text>
</g>
<g fill="#000" stroke="none">
<text x="593" y="653.17" font-size="6.3" fill="#000" text-anchor="middle">1</text>
<text x="593" y="668.17" font-size="6.3" fill="#000" text-anchor="middle">2</text>
<text x="593" y="682.67" font-size="6.3" fill="#000" text-anchor="middle">3</text>
</g>
<g fill="#000" stroke="none">
<text x="654" y="653.17" font-size="6.3" fill="#000" text-anchor="middle">1</text>
<text x="654" y="668.17" font-size="6.3" fill="#000" text-anchor="middle">2</text>
<text x="654" y="682.67" font-size="6.3" fill="#000" text-anchor="middle">3</text>
</g>
<g fill="none" stroke="#000">
<rect x="474" y="686" width="13.3" height="61.5" stroke-width="1.6" />
<rect x="475.7" y="687.6" width="10" height="58.4" stroke-width="0.9" />
<circle cx="480.8" cy="694.3" r="3.2" stroke-width="1.2" fill="#fff"/>
<circle cx="480.8" cy="709.2" r="3.2" stroke-width="1.2" fill="#fff"/>
<circle cx="480.8" cy="724.2" r="3.2" stroke-width="1.2" fill="#fff"/>
<circle cx="480.8" cy="739.1" r="3.2" stroke-width="1.2" fill="#fff"/>
</g>
<g fill="#000" stroke="none">
<text x="473.5" y="684.62" font-size="7" fill="#000" textLength="18" lengthAdjust="spacingAndGlyphs">-X209</text>
<text x="473.5" y="754.04" font-size="6.5" fill="#000" textLength="18.5" lengthAdjust="spacingAndGlyphs">WAGO</text>
<text x="473.5" y="760.54" font-size="6.5" fill="#000" textLength="23.4" lengthAdjust="spacingAndGlyphs">280-833</text>
</g>
<g fill="#000" stroke="none">
<text x="451" y="685.74" font-size="6.5" fill="#000" text-anchor="middle" textLength="18.1" lengthAdjust="spacingAndGlyphs">WAGO</text>
<text x="451" y="692.74" font-size="6.5" fill="#000" text-anchor="middle" textLength="24" lengthAdjust="spacingAndGlyphs">216-223</text>
</g>
<g fill="#000" stroke="none">
<text x="510.5" y="700.99" font-size="6.5" fill="#000" text-anchor="middle" textLength="18.1" lengthAdjust="spacingAndGlyphs">WAGO</text>
<text x="510.5" y="707.24" font-size="6.5" fill="#000" text-anchor="middle" textLength="24" lengthAdjust="spacingAndGlyphs">216-223</text>
<text x="510.5" y="715.74" font-size="6.5" fill="#000" text-anchor="middle" textLength="18.1" lengthAdjust="spacingAndGlyphs">WAGO</text>
<text x="510.5" y="722.24" font-size="6.5" fill="#000" text-anchor="middle" textLength="24" lengthAdjust="spacingAndGlyphs">216-223</text>
<text x="510.5" y="730.74" font-size="6.5" fill="#000" text-anchor="middle" textLength="18.1" lengthAdjust="spacingAndGlyphs">WAGO</text>
<text x="510.5" y="737.24" font-size="6.5" fill="#000" text-anchor="middle" textLength="24" lengthAdjust="spacingAndGlyphs">216-223</text>
</g>
<g fill="#000" stroke="none">
<text x="470" y="692.67" font-size="6.3" fill="#000" text-anchor="middle">1</text>
</g>
<g fill="#000" stroke="none">
<text x="490.5" y="707.17" font-size="6.3" fill="#000" text-anchor="middle">2</text>
<text x="490.5" y="722.17" font-size="6.3" fill="#000" text-anchor="middle">3</text>
<text x="490.5" y="737.17" font-size="6.3" fill="#000" text-anchor="middle">4</text>
</g>
<g fill="none" stroke="#000">
<rect x="510" y="838" width="13.9" height="62.6" stroke-width="1.6" />
<rect x="511.7" y="839.6" width="10.6" height="59.5" stroke-width="0.9" />
<circle cx="516.9" cy="847.1" r="3.2" stroke-width="1.2" fill="#fff"/>
<circle cx="516.9" cy="861.9" r="3.2" stroke-width="1.2" fill="#fff"/>
<circle cx="516.9" cy="876.7" r="3.2" stroke-width="1.2" fill="#fff"/>
</g>
<g fill="#000" stroke="none">
<text x="509.5" y="836.62" font-size="7" fill="#000" textLength="18" lengthAdjust="spacingAndGlyphs">-X214</text>
<text x="509.5" y="907.14" font-size="6.5" fill="#000" textLength="18.5" lengthAdjust="spacingAndGlyphs">WAGO</text>
<text x="509.5" y="913.64" font-size="6.5" fill="#000" textLength="23.4" lengthAdjust="spacingAndGlyphs">280-887</text>
</g>
<g fill="#000" stroke="none">
<text x="487" y="838.99" font-size="6.5" fill="#000" text-anchor="middle" textLength="18.1" lengthAdjust="spacingAndGlyphs">WAGO</text>
<text x="487" y="845.49" font-size="6.5" fill="#000" text-anchor="middle" textLength="24" lengthAdjust="spacingAndGlyphs">216-223</text>
</g>
<g fill="#000" stroke="none">
<text x="546.4" y="853.49" font-size="6.5" fill="#000" text-anchor="middle" textLength="18.1" lengthAdjust="spacingAndGlyphs">WAGO</text>
<text x="546.4" y="859.74" font-size="6.5" fill="#000" text-anchor="middle" textLength="24" lengthAdjust="spacingAndGlyphs">216-223</text>
<text x="546.4" y="868.49" font-size="6.5" fill="#000" text-anchor="middle" textLength="18.1" lengthAdjust="spacingAndGlyphs">WAGO</text>
<text x="546.4" y="874.74" font-size="6.5" fill="#000" text-anchor="middle" textLength="24" lengthAdjust="spacingAndGlyphs">216-223</text>
</g>
<g fill="#000" stroke="none">
<text x="506.5" y="845.42" font-size="6.3" fill="#000" text-anchor="middle">1</text>
<text x="526.5" y="859.67" font-size="6.3" fill="#000" text-anchor="middle">2</text>
<text x="526.5" y="874.67" font-size="6.3" fill="#000" text-anchor="middle">3</text>
</g>
<g fill="none" stroke="#000">
<rect x="1091.6" y="669.9" width="103.9" height="59.3" stroke-width="1.5" />
<circle cx="1091.6" cy="684.5" r="2.5" stroke-width="1.2" fill="#fff"/>
<circle cx="1091.6" cy="699.5" r="2.5" stroke-width="1.2" fill="#fff"/>
<circle cx="1091.6" cy="714.3" r="2.5" stroke-width="1.2" fill="#fff"/>
<circle cx="1195.5" cy="684.5" r="2.5" stroke-width="1.2" fill="#fff"/>
<circle cx="1195.5" cy="699.5" r="2.5" stroke-width="1.2" fill="#fff"/>
<ellipse cx="1195.5" cy="714.3" rx="3.3" ry="3.1" stroke-width="1.3" fill="#fff"/>
<circle cx="1106.5" cy="714.3" r="6.2" stroke-width="1.3" fill="none"/>
<line x1="1106.5" y1="711" x2="1106.5" y2="716.5" stroke-width="1.2" />
<line x1="1101.3" y1="716.6" x2="1111.7" y2="716.6" stroke-width="1.9" />
<path d="M1102.5,718.3 Q1106.5,720.8 1110.5,718.3" stroke-width="1.0"/>
<polyline points="1244.8,665.7 1256.4,665.7 1256.4,733 1244.8,733" stroke-width="2" />
</g>
<g fill="#000" stroke="none">
<text x="1104.6" y="679.87" font-size="11.5" fill="#000" textLength="36.3" lengthAdjust="spacingAndGlyphs">POWER</text>
<text x="1091.9" y="650.94" font-size="6.5" fill="#000" textLength="22.9" lengthAdjust="spacingAndGlyphs">OMRON</text>
<text x="1091.9" y="658.34" font-size="6.5" fill="#000" textLength="39.3" lengthAdjust="spacingAndGlyphs">S82J-01005D</text>
<text x="1091.9" y="667.5" font-size="9" fill="#000" textLength="24" lengthAdjust="spacingAndGlyphs">-T104</text>
<text x="1051.2" y="661.64" font-size="6.5" fill="#000" textLength="24.7" lengthAdjust="spacingAndGlyphs" font-weight="bold">NICHIFU</text>
<text x="1051.2" y="668.44" font-size="6.5" fill="#000" textLength="27" lengthAdjust="spacingAndGlyphs" font-weight="bold">TMEE2-4</text>
<text x="1087.5" y="682.75" font-size="10" fill="#000" text-anchor="end" textLength="33" lengthAdjust="spacingAndGlyphs">L- T104</text>
<text x="1087.5" y="697.55" font-size="10" fill="#000" text-anchor="end" textLength="33" lengthAdjust="spacingAndGlyphs">N- T104</text>
<text x="1087.5" y="712.45" font-size="10" fill="#000" text-anchor="end" textLength="33" lengthAdjust="spacingAndGlyphs">E- T104</text>
<text x="1049.7" y="720.05" font-size="6.8" fill="#000" textLength="25.1" lengthAdjust="spacingAndGlyphs">NICHIFU</text>
<text x="1048.2" y="726.85" font-size="6.8" fill="#000" textLength="27" lengthAdjust="spacingAndGlyphs">TMEE2-4</text>
<text x="1102" y="687.55" font-size="7.4" fill="#000" text-anchor="middle" textLength="3.6" lengthAdjust="spacingAndGlyphs">L</text>
<text x="1102" y="702.05" font-size="7.4" fill="#000" text-anchor="middle" textLength="4.2" lengthAdjust="spacingAndGlyphs">N</text>
<text x="1188" y="686.57" font-size="6" fill="#000" text-anchor="middle">+</text>
<text x="1188" y="701.57" font-size="6" fill="#000" text-anchor="middle">-</text>
<text x="1200.7" y="682.75" font-size="10" fill="#000" textLength="26.1" lengthAdjust="spacingAndGlyphs">+ T104</text>
<text x="1201.5" y="697.55" font-size="10" fill="#000" textLength="25.3" lengthAdjust="spacingAndGlyphs">- T104</text>
<text x="1235.8" y="661.64" font-size="6.5" fill="#000" text-anchor="end" textLength="24.7" lengthAdjust="spacingAndGlyphs" font-weight="bold">NICHIFU</text>
<text x="1235.8" y="668.44" font-size="6.5" fill="#000" text-anchor="end" textLength="27" lengthAdjust="spacingAndGlyphs" font-weight="bold">TMEE2-4</text>
<text x="1261.5" y="702.7" font-size="10" fill="#000" textLength="111" lengthAdjust="spacingAndGlyphs">Refer to N610057042+005</text>
<text x="19.5" y="553.95" font-size="10" fill="#000" textLength="111" lengthAdjust="spacingAndGlyphs">Refer to N610057042+003</text>
</g>
<g fill="none" stroke="#000" stroke-linecap="square">
<polyline points="212.5,280.25 391.9,280.25" stroke-width="1.15" />
<polyline points="391.9,280.25 391.9,95.9 564.6,95.9" stroke-width="1.9" />
<polyline points="212.5,295.25 410.8,295.25 410.8,177.4 564.6,177.4" stroke-width="1.15" />
<polyline points="212.5,310.25 465,310.25 465,263.4 564.6,263.4" stroke-width="1.9" />
<polyline points="212.5,325 411.1,325 411.1,346.9 564.6,346.9" stroke-width="1.9" />
<polyline points="212.5,340 392.4,340 392.4,431.6 564.6,431.6" stroke-width="1.9" />
<polyline points="212.5,354.5 373.5,354.5" stroke-width="1.9" />
<polyline points="373.5,354.5 373.5,512.4" stroke-width="1.45" />
<polyline points="373.5,512.4 564.6,512.4" stroke-width="1.9" />
<polyline points="212.5,369.6 355.1,369.6" stroke-width="1.45" />
<polyline points="355.1,369.6 355.1,595.7 564.6,595.7" stroke-width="1.9" />
<polyline points="212.5,384.3 429.3,384.3" stroke-width="1.15" />
<polyline points="429.3,384.3 429.3,72 564.6,72" stroke-width="1.9" />
<polyline points="429.3,153.5 564.6,153.5" stroke-width="1.15" />
<polyline points="212.5,399.3 447.8,399.3" stroke-width="1.15" />
<polyline points="447.8,399.3 447.8,239.6" stroke-width="1.9" />
<polyline points="447.8,239.6 564.6,239.6" stroke-width="1.15" />
<polyline points="447.8,323.2 564.6,323.2" stroke-width="1.15" />
<polyline points="212.5,414.3 317.9,414.3" stroke-width="1.15" />
<polyline points="317.9,414.3 317.9,488.3 564.6,488.3" stroke-width="1.9" />
<polyline points="434.75,488.3 434.75,407.5 564.6,407.5" stroke-width="1.9" />
<polyline points="212.5,429.4 299.6,429.4" stroke-width="1.15" />
<polyline points="299.6,429.4 299.6,571.9 564.6,571.9" stroke-width="1.9" />
<polyline points="688.1,72 866.5,72" stroke-width="1.9" />
<polyline points="866.5,72 866.5,295.9" stroke-width="1.15" />
<polyline points="866.5,295.9 1174.5,295.9" stroke-width="1.9" />
<polyline points="1174.5,295.9 1174.5,496" stroke-width="1.15" />
<polyline points="1174.5,496 1129.4,496" stroke-width="1.9" />
<polyline points="688.1,95.9 1042.6,95.9" stroke-width="1.9" />
<polyline points="1042.6,95.9 1042.6,155" stroke-width="1.15" />
<polyline points="1042.6,155 1292.75,155" stroke-width="1.9" />
<polyline points="688.1,153.5 848.5,153.5 848.5,317.5 1194.4,317.5 1194.4,510.8" stroke-width="1.15" />
<polyline points="1194.4,510.8 1129.4,510.8" stroke-width="1.9" />
<polyline points="688.1,177.4 925.5,177.4 925.5,169.8" stroke-width="1.15" />
<polyline points="925.5,169.8 1292.75,169.8" stroke-width="1.9" />
<polyline points="688.1,239.6 829.8,239.6" stroke-width="1.15" />
<polyline points="829.8,239.6 829.8,339.3" stroke-width="1.9" />
<polyline points="829.8,339.3 1210.5,339.3 1210.5,525.6" stroke-width="1.15" />
<polyline points="1210.5,525.6 1129.4,525.6" stroke-width="1.9" />
<polyline points="688.1,263.4 942.6,263.4 942.6,184.4 1292.75,184.4" stroke-width="1.15" />
<polyline points="688.1,323.2 811,323.2 811,510.8" stroke-width="1.15" />
<polyline points="811,510.8 1088.3,510.8" stroke-width="1.9" />
<polyline points="688.1,346.9 779.25,346.9 779.25,359.5 961.6,359.5" stroke-width="1.9" />
<polyline points="961.6,359.5 961.6,199.5 1292.75,199.5" stroke-width="1.15" />
<polyline points="688.1,407.6 1230.7,407.6" stroke-width="1.9" />
<polyline points="1230.7,407.6 1230.7,540.3 1129.4,540.3" stroke-width="1.15" />
<polyline points="688.1,431.6 980,431.6" stroke-width="1.15" />
<polyline points="980,431.6 980,214.7" stroke-width="1.9" />
<polyline points="980,214.7 1292.75,214.7" stroke-width="1.15" />
<polyline points="688.1,488.3 1043,488.3" stroke-width="1.15" />
<polyline points="1043,488.3 1043,496 1088.3,496" stroke-width="1.9" />
<polyline points="688.1,512.4 773.5,512.4 773.5,525.5" stroke-width="1.9" />
<polyline points="773.5,525.5 999,525.5" stroke-width="1.15" />
<polyline points="999,525.5 999,229.5" stroke-width="1.9" />
<polyline points="999,229.5 1292.75,229.5" stroke-width="1.15" />
<polyline points="688.1,571.9 1036.6,571.9" stroke-width="1.9" />
<polyline points="1036.6,571.9 1036.6,525.6 1088.3,525.6" stroke-width="1.15" />
<polyline points="688.1,595.7 1018,595.7 1018,244.1 1292.75,244.1" stroke-width="1.9" />
<polyline points="1292.75,124.7 884.7,124.7 884.7,655" stroke-width="1.9" />
<polyline points="884.7,655 652.4,655" stroke-width="1.15" />
<polyline points="1292.75,140 904.3,140" stroke-width="1.9" />
<polyline points="904.3,140 904.3,669.75" stroke-width="1.15" />
<polyline points="904.3,669.75 652.4,669.75" stroke-width="1.9" />
<polyline points="652.4,684.75 1089.1,684.75" stroke-width="1.9" />
<polyline points="1088.3,540.8 925.6,540.8" stroke-width="1.9" />
<polyline points="925.6,540.8 925.6,783.9 552.4,783.9" stroke-width="1.15" />
<polyline points="552.4,783.9 552.4,709.3 488.1,709.3" stroke-width="1.9" />
<polyline points="595.4,654.9 277.6,654.9" stroke-width="1.9" />
<polyline points="277.6,654.9 277.6,802.4 207.5,802.4" stroke-width="1.15" />
<polyline points="595.4,669.7 565.5,669.7 565.5,765.2 1034,765.2 1034,802.4 1314.9,802.4" stroke-width="1.15" />
<polyline points="473.2,694.4 338.5,694.4 338.5,817.5 207.5,817.5" stroke-width="1.15" />
<polyline points="488.1,724.3 533.4,724.3 533.4,802.5 953.8,802.5 953.8,699.5" stroke-width="1.9" />
<polyline points="953.8,699.5 1089.1,699.5" stroke-width="1.15" />
<polyline points="488.1,739.2 514.4,739.2" stroke-width="1.9" />
<polyline points="514.4,739.2 514.4,817.3 1314.9,817.3" stroke-width="1.15" />
<polyline points="207.5,847.1 509.2,847.1" stroke-width="1.15" />
<polyline points="524.7,861.9 809.5,861.9" stroke-width="1.9" />
<polyline points="809.5,861.9 809.5,714.3" stroke-width="1.15" />
<polyline points="809.5,714.3 1089.1,714.3" stroke-width="1.9" />
<polyline points="524.7,876.7 1089.8,876.7 1089.8,847" stroke-width="1.9" />
<polyline points="1089.8,847 1314.9,847" stroke-width="1.15" />
</g>
<g fill="#000" stroke="none">
<circle cx="429.3" cy="153.5" r="2.7"/>
<circle cx="447.8" cy="323.2" r="2.7"/>
<circle cx="434.75" cy="488.3" r="2.7"/>
</g>
<g fill="none" stroke="#000">
<line x1="268.3" y1="388.3" x2="273.6" y2="380.7" stroke-width="1.4" />
<line x1="271.8" y1="388.3" x2="277.1" y2="380.7" stroke-width="1.4" />
<line x1="268.3" y1="403.3" x2="273.6" y2="395.7" stroke-width="1.4" />
<line x1="271.8" y1="403.3" x2="277.1" y2="395.7" stroke-width="1.4" />
<line x1="268.3" y1="418.3" x2="273.6" y2="410.7" stroke-width="1.4" />
<line x1="271.8" y1="418.3" x2="277.1" y2="410.7" stroke-width="1.4" />
</g>
<g fill="#000" stroke="none">
<text x="289.25" y="278.72" font-size="8.6" fill="#000" textLength="60" lengthAdjust="spacingAndGlyphs">UL1007  AWG22  BN</text>
<text x="289.25" y="293.72" font-size="8.6" fill="#000" textLength="60" lengthAdjust="spacingAndGlyphs">UL1007  AWG22  RD</text>
<text x="289.25" y="308.72" font-size="8.6" fill="#000" textLength="60" lengthAdjust="spacingAndGlyphs">UL1007  AWG22  OG</text>
<text x="289.25" y="323.47" font-size="8.6" fill="#000" textLength="60" lengthAdjust="spacingAndGlyphs">UL1007  AWG22  YE</text>
<text x="289.25" y="338.47" font-size="8.6" fill="#000" textLength="60" lengthAdjust="spacingAndGlyphs">UL1007  AWG22  GN</text>
<text x="289.25" y="353.22" font-size="8.6" fill="#000" textLength="60" lengthAdjust="spacingAndGlyphs">UL1007  AWG22  BU</text>
<text x="289.25" y="368.22" font-size="8.6" fill="#000" textLength="60" lengthAdjust="spacingAndGlyphs">UL1007  AWG22  VT</text>
<text x="1145.75" y="123.17" font-size="8.6" fill="#000" textLength="59.5" lengthAdjust="spacingAndGlyphs">UL1007  AWG22  BN</text>
<text x="1145.75" y="138.17" font-size="8.6" fill="#000" textLength="59.5" lengthAdjust="spacingAndGlyphs">UL1007  AWG22  RD</text>
<text x="1145.75" y="152.97" font-size="8.6" fill="#000" textLength="59.5" lengthAdjust="spacingAndGlyphs">UL1007  AWG22  OG</text>
<text x="1145.75" y="167.77" font-size="8.6" fill="#000" textLength="59.5" lengthAdjust="spacingAndGlyphs">UL1007  AWG22  YE</text>
<text x="1145.75" y="182.57" font-size="8.6" fill="#000" textLength="59.5" lengthAdjust="spacingAndGlyphs">UL1007  AWG22  GN</text>
<text x="1145.75" y="197.57" font-size="8.6" fill="#000" textLength="59.5" lengthAdjust="spacingAndGlyphs">UL1007  AWG22  BU</text>
<text x="1145.75" y="212.37" font-size="8.6" fill="#000" textLength="59.5" lengthAdjust="spacingAndGlyphs">UL1007  AWG22  VT</text>
<text x="1145.75" y="227.07" font-size="8.6" fill="#000" textLength="59.5" lengthAdjust="spacingAndGlyphs">UL1007  AWG22  GY</text>
<text x="1145.75" y="241.87" font-size="8.6" fill="#000" textLength="59.5" lengthAdjust="spacingAndGlyphs">UL1007  AWG22  WH</text>
<text x="442.7" y="70.27" font-size="8.6" fill="#000" textLength="60.7" lengthAdjust="spacingAndGlyphs">UL1007  AWG22  GY</text>
<text x="442.7" y="151.57" font-size="8.6" fill="#000" textLength="60.7" lengthAdjust="spacingAndGlyphs">UL1007  AWG22  GY</text>
<text x="452.5" y="237.47" font-size="8.6" fill="#000" textLength="61.5" lengthAdjust="spacingAndGlyphs">UL1007  AWG22  WH</text>
<text x="453.75" y="321.47" font-size="8.6" fill="#000" textLength="61.5" lengthAdjust="spacingAndGlyphs">UL1007  AWG22  WH</text>
<text x="453.75" y="405.72" font-size="8.6" fill="#000" textLength="60.5" lengthAdjust="spacingAndGlyphs">UL1007  AWG22  BK</text>
<text x="448.75" y="486.47" font-size="8.6" fill="#000" textLength="60.5" lengthAdjust="spacingAndGlyphs">UL1007  AWG22  BK</text>
<text x="417.5" y="567.97" font-size="8.6" fill="#000" textLength="60" lengthAdjust="spacingAndGlyphs">UL1007  AWG22  LB</text>
<text x="1085.9" y="293.87" font-size="8.6" fill="#000" textLength="61.75" lengthAdjust="spacingAndGlyphs">UL1015  AWG18  WH</text>
<text x="1085.9" y="315.17" font-size="8.6" fill="#000" textLength="61.75" lengthAdjust="spacingAndGlyphs">UL1015  AWG18  WH</text>
<text x="1085.9" y="336.97" font-size="8.6" fill="#000" textLength="61.75" lengthAdjust="spacingAndGlyphs">UL1015  AWG18  WH</text>
<text x="1085.9" y="405.37" font-size="8.6" fill="#000" textLength="61.75" lengthAdjust="spacingAndGlyphs">UL1015  AWG18  WH</text>
<text x="926" y="486.47" font-size="8.6" fill="#000" textLength="61.75" lengthAdjust="spacingAndGlyphs">UL1015  AWG18  WH</text>
<text x="926" y="508.47" font-size="8.6" fill="#000" textLength="61.75" lengthAdjust="spacingAndGlyphs">UL1015  AWG18  WH</text>
<text x="926" y="538.97" font-size="8.6" fill="#000" textLength="61.75" lengthAdjust="spacingAndGlyphs">UL1015  AWG18  WH</text>
<text x="926" y="569.72" font-size="8.6" fill="#000" textLength="61.75" lengthAdjust="spacingAndGlyphs">UL1015  AWG18  WH</text>
<text x="964.2" y="682.47" font-size="8.6" fill="#000" textLength="60.75" lengthAdjust="spacingAndGlyphs">UL1015  AWG18  BK</text>
<text x="964.2" y="697.22" font-size="8.6" fill="#000" textLength="61.75" lengthAdjust="spacingAndGlyphs">UL1015  AWG18  WH</text>
<text x="964.2" y="711.97" font-size="8.6" fill="#000" textLength="68.25" lengthAdjust="spacingAndGlyphs">UL1015  AWG18  G/Y3</text>
<text x="366.9" y="652.97" font-size="8.6" fill="#000" textLength="60.8" lengthAdjust="spacingAndGlyphs">UL1015  AWG18  BK</text>
<text x="365.4" y="692.47" font-size="8.6" fill="#000" textLength="60.8" lengthAdjust="spacingAndGlyphs">UL1015  AWG18  WH</text>
<text x="365" y="844.97" font-size="8.6" fill="#000" textLength="68.25" lengthAdjust="spacingAndGlyphs">UL1015  AWG18  G/Y3</text>
<text x="1177.75" y="800.97" font-size="8.6" fill="#000" textLength="60.75" lengthAdjust="spacingAndGlyphs">UL1015  AWG18  BK</text>
<text x="1177.75" y="815.47" font-size="8.6" fill="#000" textLength="61.75" lengthAdjust="spacingAndGlyphs">UL1015  AWG18  WH</text>
<text x="1177.75" y="844.97" font-size="8.6" fill="#000" textLength="68.25" lengthAdjust="spacingAndGlyphs">UL1015  AWG18  G/Y3</text>
</g>
<g fill="none" stroke="#000">
<rect x="269.6" y="208.2" width="93.5" height="19.6" rx="9.8" ry="9.8" stroke-width="1.3"/>
<text x="316.35" y="221.72" font-size="10.2" fill="#000" text-anchor="middle" textLength="65.5" lengthAdjust="spacingAndGlyphs">N610073316</text>
<line x1="316.4" y1="227.8" x2="316.4" y2="252.5" stroke-width="1.2" />
<polygon points="316.4,261 314.4,252.5 318.4,252.5" fill="#000" stroke="none"/>
<rect x="1103" y="54.5" width="93" height="19.25" rx="9.62" ry="9.62" stroke-width="1.3"/>
<text x="1149.5" y="67.84" font-size="10.2" fill="#000" text-anchor="middle" textLength="65.5" lengthAdjust="spacingAndGlyphs">N610073317</text>
<line x1="1149.5" y1="73.75" x2="1149.5" y2="98.5" stroke-width="1.2" />
<polygon points="1149.5,107 1147.5,98.5 1151.5,98.5" fill="#000" stroke="none"/>
<rect x="1265.4" y="415.8" width="93.4" height="18.8" rx="9.4" ry="9.4" stroke-width="1.3"/>
<text x="1312.1" y="428.92" font-size="10.2" fill="#000" text-anchor="middle" textLength="65.5" lengthAdjust="spacingAndGlyphs">N610073318</text>
<line x1="1265.6" y1="426.5" x2="1251.41" y2="460.07" stroke-width="1.2" />
<polygon points="1248.1,467.9 1249.57,459.29 1253.25,460.85" fill="#000" stroke="none"/>
<rect x="179.1" y="618.5" width="93.6" height="19.5" rx="9.75" ry="9.75" stroke-width="1.3"/>
<text x="225.9" y="631.97" font-size="10.2" fill="#000" text-anchor="middle" textLength="65.5" lengthAdjust="spacingAndGlyphs">N610073315</text>
<line x1="226.25" y1="638" x2="271.38" y2="666.11" stroke-width="1.2" />
<polygon points="278.6,670.6 270.33,667.8 272.44,664.41" fill="#000" stroke="none"/>
<rect x="1072" y="594.1" width="93.6" height="19.6" rx="9.8" ry="9.8" stroke-width="1.3"/>
<text x="1118.8" y="607.62" font-size="10.2" fill="#000" text-anchor="middle" textLength="65.5" lengthAdjust="spacingAndGlyphs">N610073319</text>
<line x1="1071.8" y1="602.5" x2="1050.21" y2="572.04" stroke-width="1.2" />
<polygon points="1045.3,565.1 1051.85,570.88 1048.58,573.19" fill="#000" stroke="none"/>
<rect x="942.2" y="629.5" width="93.8" height="19.1" rx="9.55" ry="9.55" stroke-width="1.3"/>
<text x="989.1" y="642.77" font-size="10.2" fill="#000" text-anchor="middle" textLength="65.5" lengthAdjust="spacingAndGlyphs">N610073320</text>
<line x1="989.3" y1="648.6" x2="989.3" y2="662.5" stroke-width="1.2" />
<polygon points="989.3,671 987.3,662.5 991.3,662.5" fill="#000" stroke="none"/>
<rect x="1149" y="890.2" width="93.3" height="19.3" rx="9.65" ry="9.65" stroke-width="1.3"/>
<text x="1195.65" y="903.57" font-size="10.2" fill="#000" text-anchor="middle" textLength="65.5" lengthAdjust="spacingAndGlyphs">N610073321</text>
<line x1="1149.4" y1="899.5" x2="1126.87" y2="868.29" stroke-width="1.2" />
<polygon points="1121.9,861.4 1128.5,867.12 1125.25,869.46" fill="#000" stroke="none"/>
</g>
<g fill="none" stroke="#000">
<line x1="992.4" y1="939.9" x2="1460.9" y2="939.9" stroke-width="2" />
<line x1="992.4" y1="939.9" x2="992.4" y2="1029.3" stroke-width="1.4" />
<line x1="992.4" y1="962.4" x2="1460.9" y2="962.4" stroke-width="1.2" />
<line x1="1215.5" y1="939.9" x2="1215.5" y2="1029.3" stroke-width="1.2" />
<line x1="1215.5" y1="984.3" x2="1460.9" y2="984.3" stroke-width="1.2" />
<line x1="1215.5" y1="1006.9" x2="1460.9" y2="1006.9" stroke-width="2" />
<line x1="1386.4" y1="984.3" x2="1386.4" y2="1029.3" stroke-width="1.2" />
</g>
<g fill="#000" stroke="none">
<text x="1103.95" y="955.08" font-size="9.8" fill="#000" text-anchor="middle" textLength="24.3" lengthAdjust="spacingAndGlyphs">Name</text>
<text x="1337.9" y="954.88" font-size="9.8" fill="#000" text-anchor="middle" textLength="53.5" lengthAdjust="spacingAndGlyphs">Drawing No.</text>
<text x="994.5" y="976.75" font-size="10" fill="#000" textLength="20.5" lengthAdjust="spacingAndGlyphs">BSFV</text>
<text x="1237.5" y="977.64" font-size="12" fill="#000" textLength="83" lengthAdjust="spacingAndGlyphs">N610057042+004AA</text>
<text x="1300.4" y="999.38" font-size="9.8" fill="#000" text-anchor="middle" textLength="30" lengthAdjust="spacingAndGlyphs">Kit No.</text>
<text x="1423.5" y="999.38" font-size="9.8" fill="#000" text-anchor="middle" textLength="35.6" lengthAdjust="spacingAndGlyphs">Loc. No.</text>
<text x="919" y="1051.74" font-size="12.3" fill="#000" textLength="201.5" lengthAdjust="spacingAndGlyphs">Panasonic Factory Solutions Co.,Ltd</text>
<text x="1125.3" y="1051.74" font-size="12.3" fill="#000" textLength="276.7" lengthAdjust="spacingAndGlyphs">パナソニック ファクトリーソリューションズ株式会社</text>
</g>
</svg>
</body></html>
